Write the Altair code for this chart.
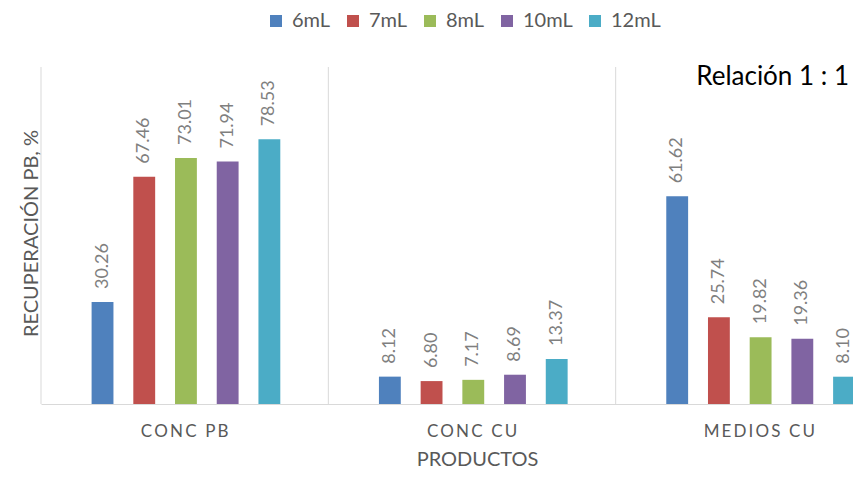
import altair as alt
import pandas as pd

categories = ["CONC PB", "CONC CU", "MEDIOS CU"]
series = ["6mL", "7mL", "8mL", "10mL", "12mL"]
conc_pb = [30.26, 67.46, 73.01, 71.94, 78.53]
conc_cu = [8.12, 6.80, 7.17, 8.69, 13.37]
medios_cu = [61.62, 25.74, 19.82, 19.36, 8.10]
colors = ["#4F81BD", "#C0504D", "#9BBB59", "#8064A2", "#4BACC6"]
annotation = ["Relación 1 : 1"]

rows = []
for cat, vals in zip(categories, [conc_pb, conc_cu, medios_cu]):
    for s, v in zip(series, vals):
        rows.append({"cat": cat, "serie": s, "valor": v})
df = pd.DataFrame(rows)
df_cat = pd.DataFrame({"cat": categories})
df_ann = pd.DataFrame({"t": annotation})

FONT = "Lato"
GRAY = "#595959"

x_scale = alt.Scale(domain=categories, range=[0, 862], paddingInner=0, paddingOuter=0)
x_axis = alt.Axis(
    title="PRODUCTOS",
    labelExpr="join(split(datum.label, ''), '\u2009')",
    labelAngle=0,
    ticks=False,
    grid=False,
    domainColor="#d9d9d9",
    domainWidth=1,
    labelFont=FONT,
    labelFontSize=17,
    labelColor=GRAY,
    labelPadding=19,
    titleFont=FONT,
    titleFontSize=20,
    titleColor=GRAY,
    titleFontWeight="normal",
    titleX=436,
    titleY=61,
    titleBaseline="alphabetic",
)
y_scale = alt.Scale(domain=[0, 100])
y_axis = alt.Axis(
    title="RECUPERACIÓN PB, %",
    labels=False,
    ticks=False,
    domain=False,
    grid=False,
    titleFont=FONT,
    titleFontSize=20,
    titleColor=GRAY,
    titleFontWeight="normal",
    titleX=-4,
    titleY=166,
    titleBaseline="alphabetic",
    titleAngle=270,
)
xo = alt.XOffset("serie:N", sort=series,
                 scale=alt.Scale(domain=series, range=[50.6, 239.3], paddingInner=0.476, paddingOuter=0))

bars = alt.Chart(df).mark_bar(clip=True).encode(
    x=alt.X("cat:N", sort=categories, scale=x_scale, axis=x_axis),
    xOffset=xo,
    y=alt.Y("valor:Q", scale=y_scale, axis=y_axis),
    color=alt.Color(
        "serie:N",
        sort=series,
        scale=alt.Scale(domain=series, range=colors),
        legend=alt.Legend(
            orient="none",
            legendX=225,
            legendY=-56,
            direction="horizontal",
            title=None,
            symbolType="square",
            symbolSize=144,
            symbolStrokeWidth=0,
            labelFont=FONT,
            labelFontSize=20,
            labelColor=GRAY,
            labelOffset=6,
            columnPadding=12,
            padding=0,
        ),
    ),
)

labels = alt.Chart(df).mark_text(
    angle=270, align="left", baseline="middle", dx=13,
    fontSize=18, font=FONT, color="#7F7F7F",
).encode(
    x=alt.X("cat:N", sort=categories, scale=x_scale, axis=x_axis),
    xOffset=xo,
    y=alt.Y("valor:Q", scale=y_scale, axis=y_axis),
    text=alt.Text("valor:Q", format=".2f"),
)

seps = alt.Chart(df_cat).mark_rule(color="#d9d9d9", strokeWidth=1).encode(
    x=alt.X("cat:N", sort=categories, scale=x_scale, axis=x_axis, bandPosition=0),
)

ann = alt.Chart(df_ann).mark_text(
    align="right", baseline="alphabetic", fontSize=26, font=FONT, color="#000000",
).encode(
    x=alt.value(808),
    y=alt.value(18),
    text="t:N",
)

chart = alt.layer(seps, bars, labels, ann).properties(
    width=812,
    height=337,
    autosize=alt.AutoSizeParams(type="none"),
    padding={"left": 33, "top": 59, "right": 0, "bottom": 65},
    background="white",
).configure_view(stroke=None)

chart.save("out.html", embed_options={"renderer": "svg", "actions": False})
